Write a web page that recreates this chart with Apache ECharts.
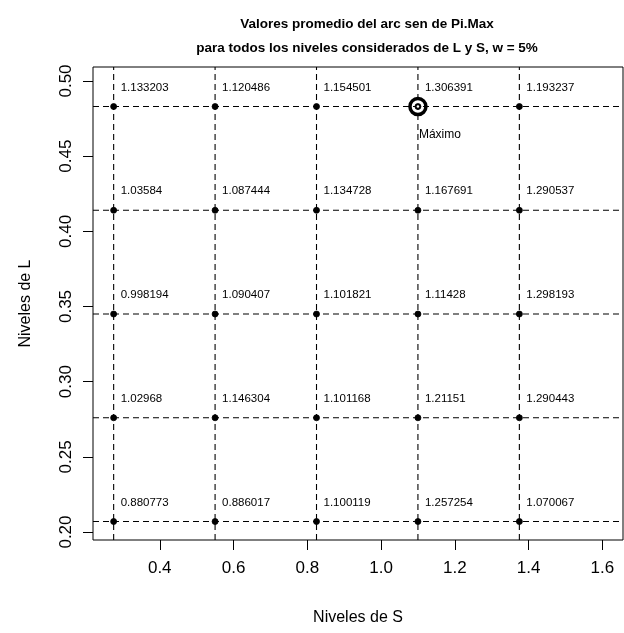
<!DOCTYPE html>
<html>
<head>
<meta charset="utf-8">
<script src="https://cdn.jsdelivr.net/npm/echarts@6/dist/echarts.min.js"></script>
<style>html,body{margin:0;padding:0;background:#fff}#c{width:624px;height:633px}</style>
</head>
<body>
<div id="c"></div>
<script>
// Data
const levelsS = [0.275, 0.55, 0.825, 1.1, 1.375];
const levelsL = [0.207, 0.276, 0.345, 0.414, 0.483];
// values by row of L (bottom to top), columns S
const rowL1 = [0.880773, 0.886017, 1.100119, 1.257254, 1.070067];
const rowL2 = [1.02968, 1.146304, 1.101168, 1.21151, 1.290443];
const rowL3 = [0.998194, 1.090407, 1.101821, 1.11428, 1.298193];
const rowL4 = [1.03584, 1.087444, 1.134728, 1.167691, 1.290537];
const rowL5 = [1.133203, 1.120486, 1.154501, 1.306391, 1.193237];
const xTicks = [0.4, 0.6, 0.8, 1.0, 1.2, 1.4, 1.6];
const yTicks = [0.20, 0.25, 0.30, 0.35, 0.40, 0.45, 0.50];

const rows = [rowL1, rowL2, rowL3, rowL4, rowL5];
const pts = [];
rows.forEach((r, i) => r.forEach((v, j) => pts.push([levelsS[j], levelsL[i], v])));
let maxPt = pts[0];
pts.forEach(p => { if (p[2] > maxPt[2]) maxPt = p; });

const X_MIN = 0.219, X_MAX = 1.656, Y_MIN = 0.1947, Y_MAX = 0.5093;
const FONT = 'Liberation Sans, Arial, sans-serif';
const dashed = {color: '#000', type: [6, 4], width: 1.1};

const guideSeries = [];
levelsS.forEach(s => guideSeries.push({
  type: 'line', data: [[s, Y_MIN], [s, Y_MAX]], symbol: 'none', silent: true,
  lineStyle: dashed, z: 1
}));
levelsL.forEach(l => guideSeries.push({
  type: 'line', data: [[X_MIN, l], [X_MAX, l]], symbol: 'none', silent: true,
  lineStyle: dashed, z: 1
}));

const chart = echarts.init(document.getElementById('c'));
chart.setOption({
  animation: false,
  backgroundColor: '#fff',
  title: {
    text: 'Valores promedio del arc sen de Pi.Max\npara todos los niveles considerados de L y S, w = 5%',
    left: 362, top: 7, textAlign: 'center',
    textStyle: {fontFamily: FONT, fontSize: 13.5, fontWeight: 'bold', color: '#000', lineHeight: 24}
  },
  grid: {left: 93, right: 1, top: 67, bottom: 93, show: true, borderColor: '#000', borderWidth: 1, backgroundColor: 'transparent'},
  xAxis: {
    type: 'value', min: X_MIN, max: X_MAX,
    splitLine: {show: false},
    axisLine: {show: false},
    axisTick: {show: true, inside: false, length: 10, customValues: xTicks, lineStyle: {color: '#000'}},
    axisLabel: {customValues: xTicks, formatter: v => v.toFixed(1), margin: 20, color: '#000', fontFamily: FONT, fontSize: 17},
    name: 'Niveles de S', nameLocation: 'middle', nameGap: 70,
    nameTextStyle: {fontFamily: FONT, fontSize: 16, color: '#000'}
  },
  yAxis: {
    type: 'value', min: Y_MIN, max: Y_MAX,
    splitLine: {show: false},
    axisLine: {show: false},
    axisTick: {show: true, inside: false, length: 10, customValues: yTicks, lineStyle: {color: '#000'}},
    axisLabel: {customValues: yTicks, formatter: v => v.toFixed(2), rotate: 90, margin: 18, color: '#000', fontFamily: FONT, fontSize: 17, align: 'center', verticalAlign: 'bottom'},
    name: 'Niveles de L', nameLocation: 'middle', nameGap: 59,
    nameTextStyle: {fontFamily: FONT, fontSize: 16, color: '#000'}
  },
  series: guideSeries.concat([
    {
      type: 'scatter',
      data: pts,
      symbol: 'circle', symbolSize: 6, z: 3,
      itemStyle: {color: '#000', borderColor: '#000', borderWidth: 0.8, opacity: 1},
      label: {
        show: true, position: 'inside', align: 'left', verticalAlign: 'middle', offset: [7, -19],
        formatter: p => String(p.value[2]),
        fontFamily: FONT, fontSize: 11.5, color: '#000'
      }
    },
    {
      type: 'scatter',
      data: [maxPt],
      symbol: 'circle', symbolSize: 16, z: 4,
      itemStyle: {color: 'rgba(0,0,0,0)', borderColor: '#000', borderWidth: 3.5, opacity: 1},
      label: {
        show: true, position: 'inside', align: 'left', verticalAlign: 'middle', offset: [1, 28],
        formatter: 'Máximo', fontFamily: FONT, fontSize: 12, color: '#000'
      }
    },
    {
      type: 'scatter',
      data: [maxPt],
      symbol: 'circle', symbolSize: 2.5, z: 5, silent: true,
      itemStyle: {color: '#fff', opacity: 1}
    }
  ])
});
</script>
</body>
</html>
